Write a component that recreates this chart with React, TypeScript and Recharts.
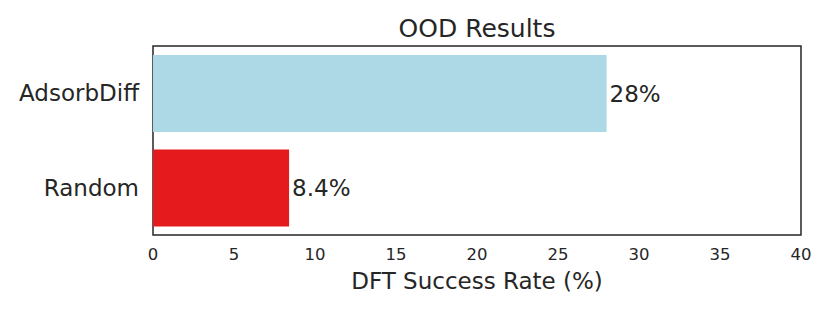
import { Bar, BarChart, Cell, LabelList, ReferenceArea, XAxis, YAxis } from "recharts";

const methods = ["AdsorbDiff", "Random"];
const successRates = [28, 8.4];
const barColors = ["#add8e6", "#e41a1c"];
const xTicks = [0, 5, 10, 15, 20, 25, 30, 35, 40];

const rows = methods.map((method, i) => ({ method, rate: successRates[i] }));

const ink = "#262626";
const font = "'DejaVu Sans', sans-serif";

export default function App() {
  return (
    <div style={{ position: "absolute", left: 0, top: 0, width: 830, height: 312, fontFamily: font }}>
      <div
        style={{
          position: "absolute",
          left: 153,
          width: 648,
          top: 14,
          textAlign: "center",
          fontSize: 25,
          color: ink,
          lineHeight: "30px",
        }}
      >
        OOD Results
      </div>
      <BarChart
        width={830}
        height={312}
        data={rows}
        layout="vertical"
        margin={{ top: 46, right: 29, bottom: 0, left: 0 }}
        barCategoryGap={9}
      >
        <XAxis
          type="number"
          domain={[0, 40]}
          ticks={xTicks}
          tickLine={false}
          axisLine={false}
          tickSize={0}
          tickMargin={13}
          height={77}
          tick={{ fontSize: 16.5, fill: ink, fontFamily: font }}
          label={{
            value: "DFT Success Rate (%)",
            position: "insideBottom",
            offset: 23,
            fontSize: 23,
            fill: ink,
            fontFamily: font,
          }}
        />
        <YAxis
          type="category"
          dataKey="method"
          width={153}
          tickLine={false}
          axisLine={false}
          tickSize={0}
          tickMargin={14}
          tick={{ fontSize: 23, fill: ink, fontFamily: font }}
        />
        <Bar dataKey="rate" isAnimationActive={false}>
          {rows.map((_, i) => (
            <Cell key={i} fill={barColors[i]} />
          ))}
          <LabelList
            dataKey="rate"
            position="right"
            offset={3}
            formatter={(v: number) => `${v}%`}
            style={{ fontSize: 23, fill: ink, fontFamily: font }}
          />
        </Bar>
        <ReferenceArea x1={0} x2={40} fill="none" stroke={ink} strokeWidth={1.5} fillOpacity={0} />
      </BarChart>
    </div>
  );
}
